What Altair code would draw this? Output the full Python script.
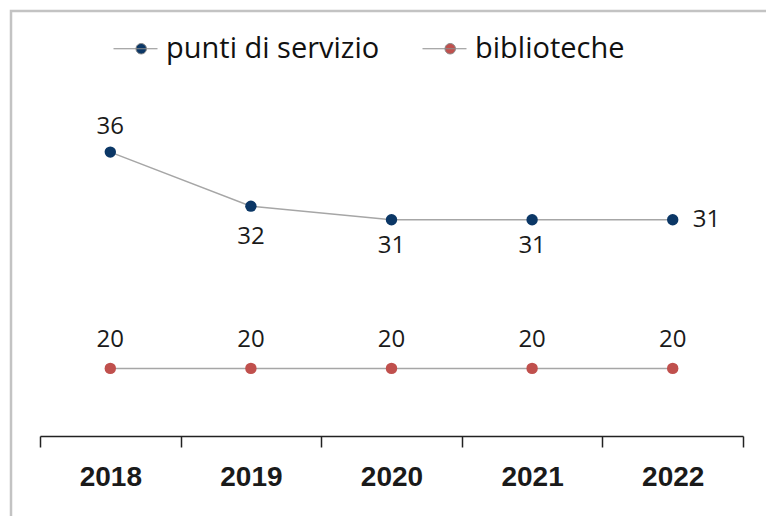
import altair as alt
import pandas as pd

years = ["2018", "2019", "2020", "2021", "2022"]
punti = [36, 32, 31, 31, 31]
biblio = [20, 20, 20, 20, 20]
series_names = ["punti di servizio", "biblioteche"]
series_colors = ["#0b3766", "#c0504d"]

rows = []
for y, v in zip(years, punti):
    rows.append({"anno": y, "serie": series_names[0], "valore": v})
for y, v in zip(years, biblio):
    rows.append({"anno": y, "serie": series_names[1], "valore": v})
df = pd.DataFrame(rows)

x_enc = alt.X("anno:N", sort=years,
              scale=alt.Scale(paddingInner=0, paddingOuter=0),
              axis=alt.Axis(title=None, tickBand="extent", labelAngle=0,
                            labelFont="Liberation Sans", labelFontSize=28,
                            labelFontWeight="bold", labelColor="#1a1a1a",
                            labelPadding=16, tickSize=11, tickColor="#222222",
                            domainColor="#222222", domainWidth=1.5, tickWidth=1.5,
                            grid=False))
y_enc = alt.Y("valore:Q", scale=alt.Scale(domain=[15, 40], nice=False, zero=False),
              axis=None)

base = alt.Chart(df).encode(x=x_enc, y=y_enc)

frame = alt.Chart(alt.Data(values=[{"k": 1}])).mark_rect(
    fill=None, filled=False, stroke="#c3c3c3", strokeWidth=2.5, clip=False
).encode(x=alt.value(-29), x2=alt.value(900), y=alt.value(-87), y2=alt.value(700))

lines = base.mark_line(color="#a6a6a6", strokeWidth=1.5).encode(detail="serie:N")

sym = "M-1,0H1M0.5,0A0.24,0.24,0,1,1,0.02,0A0.24,0.24,0,1,1,0.5,0Z"
points = base.mark_point(filled=True, size=130, opacity=1).encode(
    color=alt.Color("serie:N", sort=series_names,
                    scale=alt.Scale(domain=series_names, range=series_colors),
                    legend=alt.Legend(title=None, orient="none", direction="horizontal",
                                      legendX=73, legendY=-72, symbolType=sym,
                                      symbolSize=1936, symbolStrokeColor="#8c8c8c",
                                      symbolStrokeWidth=1.0, labelFont="Open Sans",
                                      labelFontSize=29, labelColor="#111111",
                                      labelLimit=500,
                                      labelOffset=8, columnPadding=40, padding=0,
                                      symbolOpacity=1))
)

def lab(**kw):
    return base.mark_text(font="Open Sans", fontSize=24, color="#1a1a1a",
                          baseline="middle", **kw).encode(text="valore:Q")

l_above = lab(dy=-25).transform_filter(
    (alt.datum.serie == series_names[0]) & (alt.datum.anno == "2018"))
l_b1 = lab(dy=31).transform_filter(
    (alt.datum.serie == series_names[0]) & (alt.datum.anno == "2019"))
l_b2 = lab(dy=26).transform_filter(
    (alt.datum.serie == series_names[0]) & ((alt.datum.anno == "2020") | (alt.datum.anno == "2021")))
l_right = lab(dx=20, align="left").transform_filter(
    (alt.datum.serie == series_names[0]) & (alt.datum.anno == "2022"))
l_bib = lab(dy=-28).transform_filter(alt.datum.serie == series_names[1])

chart = alt.layer(frame, lines, points, l_above, l_b1, l_b2, l_right, l_bib).properties(
    width=703, height=338,
    padding={"left": 32, "top": 90, "right": 23, "bottom": 80},
    autosize=alt.AutoSizeParams(type="none"),
).configure_view(stroke=None)

chart.save("out.html", embed_options={"renderer": "svg", "actions": False})
